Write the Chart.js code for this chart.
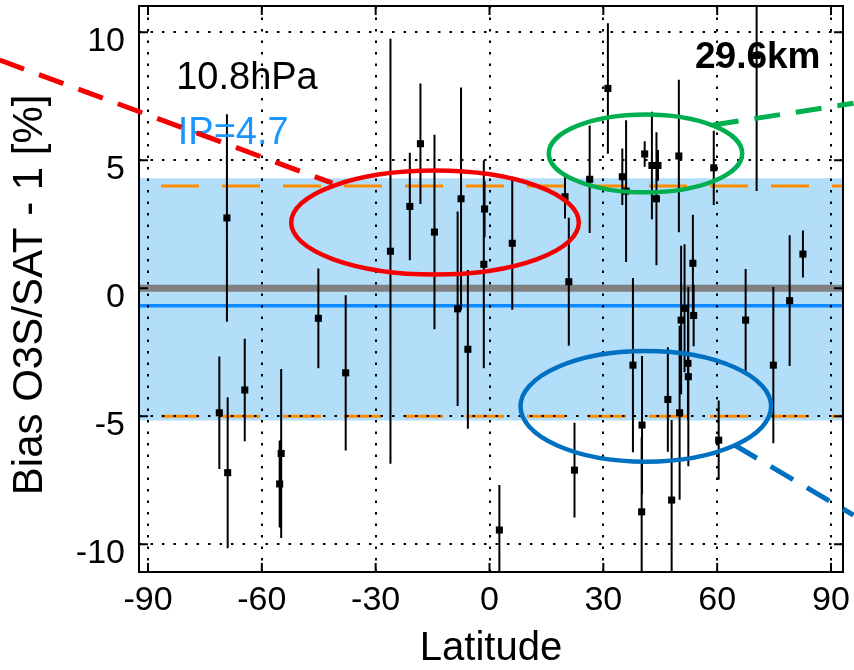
<!DOCTYPE html>
<html>
<head>
<meta charset="utf-8">
<script src="https://cdn.jsdelivr.net/npm/chart.js"></script>
<style>
  html, body { margin: 0; padding: 0; background: #fff; }
  #chart { display: block; }
</style>
</head>
<body>
<canvas id="chart" width="854" height="670"></canvas>
<script>
// station latitude (deg), bias O3S/SAT - 1 (%) and half length of the error bar
const lat  = [-71.2, -69.2, -69.0, -64.5, -54.9, -55.3, -45.1, -37.9, -26.1, -21.0,
              -18.2, -14.5, -7.5, -8.4, -5.7, -1.3, -1.5, 2.6, 6.0, 19.9,
              20.9, 22.4, 26.4, 31.2, 35.0, 36.0, 37.8, 40.2, 40.1, 40.9,
              42.8, 44.0, 44.4, 47.0, 48.0, 49.9, 50.1, 50.5, 51.4, 52.3,
              52.4, 53.8, 53.6, 59.1, 60.4, 67.5, 70.4, 74.8, 79.1, 82.6];
const bias = [-4.86, 2.75, -7.2, -3.97, -6.45, -7.64, -1.17, -3.3, 1.45, 3.2,
              5.65, 2.2, 3.5, -0.8, -2.38, 3.1, 0.94, -9.44, 1.76, 3.58,
              0.26, -7.1, 4.26, 7.81, 4.36, 3.8, -3.0, -5.34, -8.73, 5.25,
              4.8, 3.5, 4.8, -4.34, -8.27, 5.17, -4.86, -1.24, -0.78, -2.93,
              -3.45, -1.06, 0.98, 4.71, -5.93, -1.24, 9.1, -3.0, -0.48, 1.34];
const err  = [2.2, 4.05, 2.95, 2.0, 3.3, 1.7, 1.95, 3.03, 8.3, 2.1,
              2.35, 3.8, 4.35, 3.8, 3.1, 1.1, 4.06, 1.76, 2.6, 0.85,
              2.5, 1.85, 2.1, 2.55, 1.1, 2.77, 3.4, 2.7, 2.9, 0.5,
              2.1, 2.6, 0.6, 2.04, 3.13, 2.98, 3.4, 2.9, 2.5, 2.2,
              3.5, 1.2, 1.9, 1.45, 1.55, 2.0, 5.3, 3.05, 2.55, 0.92];

// reference levels (%)
const zeroLine = 0;
const meanBias = -0.68;
const limitLines = [4.0, -5.0];
const bandRange = [4.3, -5.16];

// axis ranges
const xMin = -92.37, xMax = 93.16;
const yMin = -11.08, yMax = 11.03;

const pressureLabel = '10.8hPa';
const ipLabel = 'IP=4.7';
const altitudeLabel = '29.6km';

const barPoints = [];
lat.forEach((x, i) => {
  barPoints.push({x, y: bias[i] - err[i]}, {x, y: bias[i] + err[i]}, {x, y: null});
});
const markers = lat.map((x, i) => ({x, y: bias[i]}));
const hLine = (v) => [{x: xMin, y: v}, {x: xMax, y: v}];

// highlight marks drawn over the plot (data units)
const ellipses = [
  {cx: -14.36, cy: 2.57, rx: 37.9, ry: 2.03, color: '#f50000'},
  {cx: 41.11, cy: 5.27, rx: 25.49, ry: 1.52, color: '#00b050'},
  {cx: 41.19, cy: -4.61, rx: 33.02, ry: 2.16, color: '#0070c0'}
];
const pointers = [
  {from: [-129.1, 8.92], to: [-41.4, 4.11], color: '#f50000'},
  {from: [58.85, 6.38], to: [95.93, 7.23], color: '#00b050'},
  {from: [64.57, -6.12], to: [95.93, -8.86], color: '#0070c0'}
];

const frame = {
  id: 'frame',
  afterDraw(chart) {
    const {ctx, chartArea: a, scales: {x, y}} = chart;
    ctx.save();
    ctx.setLineDash([]);
    ctx.strokeStyle = '#000';
    ctx.lineWidth = 2;
    ctx.strokeRect(a.left, a.top, a.right - a.left, a.bottom - a.top);
    ctx.beginPath();
    x.ticks.forEach(t => {
      const px = x.getPixelForValue(t.value);
      ctx.moveTo(px, a.bottom); ctx.lineTo(px, a.bottom - 9);
      ctx.moveTo(px, a.top); ctx.lineTo(px, a.top + 9);
    });
    y.ticks.forEach(t => {
      const py = y.getPixelForValue(t.value);
      ctx.moveTo(a.left, py); ctx.lineTo(a.left + 9, py);
      ctx.moveTo(a.right, py); ctx.lineTo(a.right - 9, py);
    });
    ctx.stroke();
    ctx.restore();
  }
};

const highlights = {
  id: 'highlights',
  afterDraw(chart) {
    const {ctx, scales: {x, y}} = chart;
    ctx.save();
    ctx.setLineDash([]);
    ctx.fillStyle = '#000';
    ctx.font = '38px "Liberation Sans", Arial, sans-serif';
    ctx.textBaseline = 'alphabetic';
    ctx.textAlign = 'left';
    ctx.fillText(pressureLabel, x.getPixelForValue(-82.57), y.getPixelForValue(7.77));
    ctx.fillStyle = '#1a96ff';
    ctx.fillText(ipLabel, x.getPixelForValue(-82.15), y.getPixelForValue(5.64));
    ctx.fillStyle = '#000';
    ctx.font = 'bold 37px "Liberation Sans", Arial, sans-serif';
    ctx.textAlign = 'right';
    ctx.fillText(altitudeLabel, x.getPixelForValue(87.23), y.getPixelForValue(8.59));

    ctx.lineWidth = 4.5;
    ellipses.forEach(e => {
      const px = x.getPixelForValue(e.cx), py = y.getPixelForValue(e.cy);
      const rx = Math.abs(x.getPixelForValue(e.cx + e.rx) - px);
      const ry = Math.abs(y.getPixelForValue(e.cy + e.ry) - py);
      ctx.strokeStyle = e.color;
      ctx.beginPath();
      ctx.ellipse(px, py, rx, ry, 0, 0, Math.PI * 2);
      ctx.stroke();
    });
    ctx.lineWidth = 5;
    ctx.setLineDash([26, 16]);
    pointers.forEach(p => {
      ctx.strokeStyle = p.color;
      ctx.beginPath();
      ctx.moveTo(x.getPixelForValue(p.from[0]), y.getPixelForValue(p.from[1]));
      ctx.lineTo(x.getPixelForValue(p.to[0]), y.getPixelForValue(p.to[1]));
      ctx.stroke();
    });
    ctx.restore();
  }
};

const tickFont = {family: '"Liberation Sans", Arial, sans-serif', size: 34};
const gridColor = (c) => (c.tick && c.tick.value === 0 && c.scale.axis === 'y') ? 'rgba(0,0,0,0)' : '#000';

new Chart(document.getElementById('chart'), {
  type: 'scatter',
  data: {
    datasets: [
      {
        data: markers,
        order: 0,
        showLine: false,
        pointStyle: 'rect',
        pointRadius: 5,
        backgroundColor: '#000',
        borderColor: '#000',
        borderWidth: 0
      },
      {
        data: barPoints,
        order: 1,
        showLine: true,
        spanGaps: false,
        pointRadius: 0,
        borderColor: '#000',
        borderWidth: 2
      },
      {
        data: hLine(limitLines[0]),
        order: 2,
        showLine: true,
        pointRadius: 0,
        borderColor: '#ff8c00',
        borderWidth: 3,
        borderDash: [38, 23],
        borderDashOffset: 39
      },
      {
        data: hLine(limitLines[1]),
        order: 2,
        showLine: true,
        pointRadius: 0,
        borderColor: '#ff8c00',
        borderWidth: 3,
        borderDash: [38, 23],
        borderDashOffset: 39
      },
      {
        data: hLine(meanBias),
        order: 3,
        showLine: true,
        pointRadius: 0,
        borderColor: '#0b8bff',
        borderWidth: 3.5
      },
      {
        data: hLine(zeroLine),
        order: 4,
        showLine: true,
        pointRadius: 0,
        borderColor: '#808080',
        borderWidth: 7
      },
      {
        data: hLine(bandRange[0]),
        order: 5,
        showLine: true,
        pointRadius: 0,
        borderWidth: 0,
        borderColor: 'rgba(0,0,0,0)',
        backgroundColor: 'rgb(178,222,250)',
        fill: {value: bandRange[1]}
      }
    ]
  },
  options: {
    responsive: false,
    devicePixelRatio: 1,
    animation: false,
    layout: {padding: {left: 0, right: 11, top: 6, bottom: 0}},
    plugins: {legend: {display: false}, tooltip: {enabled: false}},
    scales: {
      x: {
        type: 'linear',
        min: xMin,
        max: xMax,
        afterFit(scale) { scale.height = 98; scale.paddingLeft = 0; scale.paddingRight = 0; },
        ticks: {stepSize: 30, includeBounds: false, color: '#000', font: tickFont, padding: 8, maxRotation: 0},
        grid: {z: 1, drawTicks: false, color: gridColor, lineWidth: 2},
        border: {display: false, dash: [2.5, 9]},
        title: {
          display: true,
          text: 'Latitude',
          color: '#000',
          font: {family: '"Liberation Sans", Arial, sans-serif', size: 40, lineHeight: 1},
          padding: {top: 0, bottom: 1}
        }
      },
      y: {
        type: 'linear',
        min: yMin,
        max: yMax,
        afterFit(scale) { scale.width = 139; scale.paddingTop = 0; scale.paddingBottom = 0; },
        ticks: {stepSize: 5, includeBounds: false, color: '#000', font: tickFont, padding: 14, labelOffset: 9},
        grid: {z: 1, drawTicks: false, color: gridColor, lineWidth: 2},
        border: {display: false, dash: [2.5, 9]},
        title: {
          display: true,
          text: 'Bias O3S/SAT - 1 [%]\u00a0',
          color: '#000',
          font: {family: '"Liberation Sans", Arial, sans-serif', size: 42},
          padding: {top: 5, bottom: 0}
        }
      }
    }
  },
  plugins: [frame, highlights]
});
</script>
</body>
</html>
